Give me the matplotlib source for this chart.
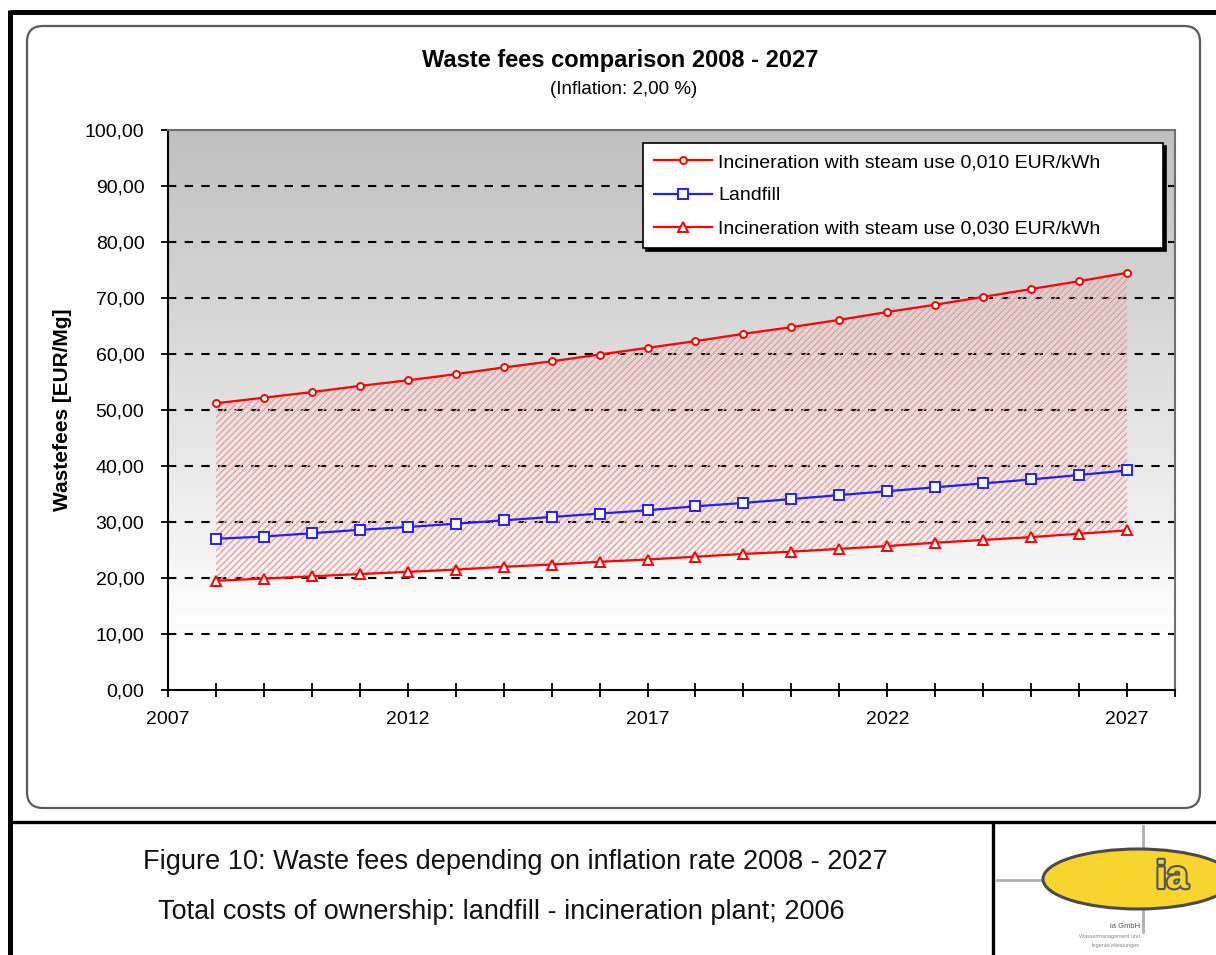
import matplotlib
matplotlib.use("Agg")
import matplotlib.pyplot as plt
import numpy as np
from matplotlib.patches import FancyBboxPatch, Ellipse
from matplotlib.ticker import FuncFormatter, MultipleLocator
import matplotlib.patheffects as pe

# ---------------- data ----------------
years = list(range(2008, 2028))
incin_010 = [51.2, 52.2, 53.2, 54.3, 55.3, 56.4, 57.6, 58.7, 59.9, 61.1,
             62.3, 63.6, 64.8, 66.1, 67.5, 68.8, 70.2, 71.6, 73.0, 74.5]
landfill = [27.0, 27.4, 28.0, 28.6, 29.1, 29.7, 30.3, 30.9, 31.5, 32.1,
            32.8, 33.4, 34.1, 34.8, 35.5, 36.2, 36.9, 37.6, 38.4, 39.2]
incin_030 = [19.5, 19.9, 20.3, 20.7, 21.1, 21.5, 22.0, 22.4, 22.9, 23.3,
             23.8, 24.3, 24.7, 25.2, 25.7, 26.3, 26.8, 27.3, 27.9, 28.5]
series_labels = ["Incineration with steam use 0,010 EUR/kWh",
                 "Landfill",
                 "Incineration with steam use 0,030 EUR/kWh"]
x_ticks = [2007, 2012, 2017, 2022, 2027]
title = "Waste fees comparison 2008 - 2027"
subtitle = "(Inflation: 2,00 %)"
ylabel = "Wastefees [EUR/Mg]"
caption1 = "Figure 10: Waste fees depending on inflation rate 2008 - 2027"
caption2 = "Total costs of ownership: landfill - incineration plant; 2006"

W, H = 1216, 955
plt.rcParams['font.family'] = ['Liberation Sans', 'DejaVu Sans']
plt.rcParams['hatch.linewidth'] = 1.0
fig = plt.figure(figsize=(W / 100, H / 100), dpi=100)
fig.patch.set_facecolor('white')

# ---------- decoration layer in pixel coords ----------
deco = fig.add_axes([0, 0, 1, 1], zorder=0)
deco.set_xlim(0, W)
deco.set_ylim(H, 0)
deco.axis('off')

# rounded chart area frame
rr = FancyBboxPatch((27, 26), 1173, 782, boxstyle="round,pad=0,rounding_size=16",
                    facecolor='white', edgecolor='#5a5a5a', linewidth=1.6)
deco.add_patch(rr)

# outer black frame lines
deco.plot([10, W], [12, 12], color='black', lw=3.6, solid_capstyle='butt')
deco.plot([10, 10], [10, H], color='black', lw=3.6, solid_capstyle='butt')
deco.plot([10, W], [822, 822], color='black', lw=2.4, solid_capstyle='butt')
deco.plot([993, 993], [822, H], color='black', lw=2.4, solid_capstyle='butt')

# titles
deco.text(620, 60, title, ha='center', va='center', fontsize=17, fontweight='bold')
deco.text(624, 90, subtitle, ha='center', va='center', fontsize=13.5)
deco.text(62, 410, ylabel, ha='center', va='center', rotation=90,
          fontsize=15, fontweight='bold')

# captions
deco.text(515, 862, caption1, ha='center', va='center', fontsize=19.5,
          color='#111111')
deco.text(501, 912, caption2, ha='center', va='center', fontsize=19.5,
          color='#111111')

# logo
deco.plot([997, 1050], [880, 880], color='#b0b0b0', lw=2)
deco.plot([1143, 1143], [826, 850], color='#b0b0b0', lw=2)
deco.plot([1143, 1143], [908, 932], color='#b0b0b0', lw=2)
deco.add_patch(Ellipse((1138, 879), 190, 60, facecolor='#f7d52e',
                       edgecolor='#4a4a4a', linewidth=2.2, zorder=3))
deco.text(1172, 878, "ia", ha='center', va='center', fontsize=28, fontweight='bold',
          color='#f7d52e', zorder=4,
          path_effects=[pe.withStroke(linewidth=3, foreground='#555555')])
deco.text(1140, 926, "ia GmbH", ha='right', va='center', fontsize=5.5, color='#555555')
deco.text(1140, 936, "Wassermanagement und", ha='right', va='center', fontsize=4, color='#888888')
deco.text(1140, 945, "Ingenieurleistungen", ha='right', va='center', fontsize=4, color='#888888')

# ---------- plot axes ----------
left, right, top, bottom = 168, 1175, 130, 690
ax = fig.add_axes([left / W, 1 - bottom / H, (right - left) / W, (bottom - top) / H], zorder=2)

# gradient background (gray at top, white at bottom)
grad = np.linspace(0, 1, 256).reshape(-1, 1)
top_c = np.array([0.75, 0.75, 0.75])
bot_c = np.array([1.0, 1.0, 1.0])
t = np.clip(grad * 1.1, 0, 1)
img = top_c + (bot_c - top_c) * t
img = np.repeat(img[:, None, :], 2, axis=1)
ax.imshow(img, extent=[2007, 2028, 0, 100], aspect='auto', zorder=0, origin='upper')
ax.set_xlim(2007, 2028)
ax.set_ylim(0, 100)

# grid
for yv in range(10, 100, 10):
    ax.axhline(yv, color='black', lw=1.5, ls=(0, (4, 4)), zorder=1)

# hatched band
ax.fill_between(years, incin_030, incin_010, facecolor='none',
                edgecolor='#f59a9a', hatch='/////', linewidth=0, zorder=2)

ax.plot(years, incin_010, color='#ff0000', lw=1.6, marker='o', ms=5,
        mfc='white', mec='#ff0000', mew=1.4, label=series_labels[0], zorder=4)
ax.plot(years, landfill, color='#2020ff', lw=1.6, marker='s', ms=7,
        mfc='white', mec='#2020ff', mew=1.4, label=series_labels[1], zorder=4)
ax.plot(years, incin_030, color='#ff0000', lw=1.6, marker='^', ms=7,
        mfc='white', mec='#ff0000', mew=1.4, label=series_labels[2], zorder=4)

# axes styling
for s in ['left', 'bottom']:
    ax.spines[s].set_color('black')
    ax.spines[s].set_linewidth(1.5)
for s in ['top', 'right']:
    ax.spines[s].set_color('#707070')
    ax.spines[s].set_linewidth(1.5)

ax.yaxis.set_major_locator(MultipleLocator(10))
ax.yaxis.set_major_formatter(FuncFormatter(lambda v, p: f"{v:.2f}".replace('.', ',')))
ax.set_xticks(x_ticks)
ax.xaxis.set_minor_locator(MultipleLocator(1))
ax.tick_params(axis='y', direction='out', length=5, width=1.3, pad=12, labelsize=14)
ax.tick_params(axis='x', which='both', direction='inout', length=10, width=1.3,
               pad=10, labelsize=14)

leg = ax.legend(loc='upper left', bbox_to_anchor=(0.472, 0.789, 0.516, 0.188),
                mode='expand', fontsize=14,
                frameon=True, fancybox=False, shadow={'color': 'black', 'alpha': 1.0},
                handlelength=3.0, borderpad=0.55, labelspacing=0.8, handletextpad=0.3,
                borderaxespad=0)
leg.get_frame().set_edgecolor('black')
leg.get_frame().set_linewidth(1.2)
leg.get_frame().set_facecolor('white')

fig.savefig("out.png", dpi=100, facecolor='white')
